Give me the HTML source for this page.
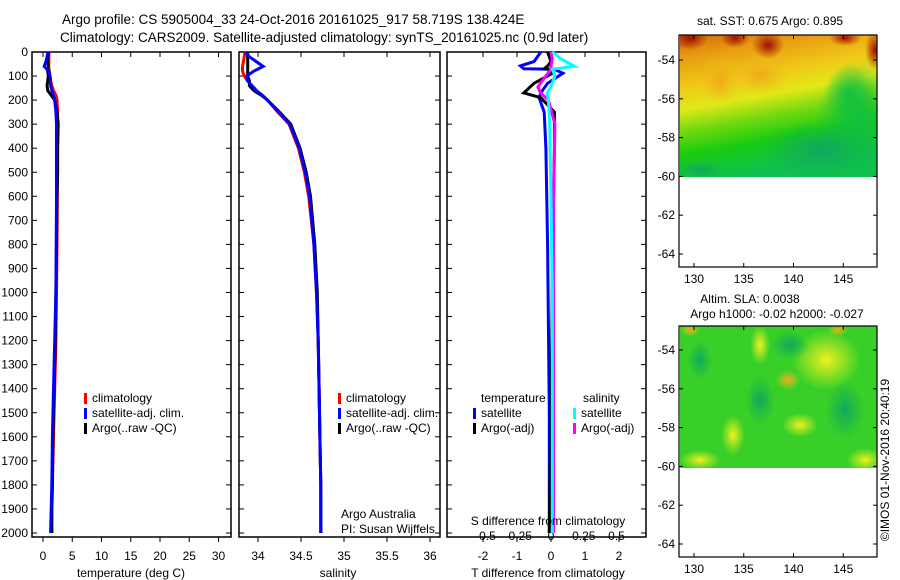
<!DOCTYPE html>
<html><head><meta charset="utf-8"><style>
html,body{margin:0;padding:0;background:#fff;}
svg{display:block;font-family:"Liberation Sans",sans-serif;}
text{font-size:12px;fill:#000;}
</style></head><body>
<svg id="fig" width="900" height="580" xmlns="http://www.w3.org/2000/svg">
<defs>
<linearGradient id="sstg" x1="0" y1="0" x2="0.25" y2="1">
<stop offset="0" stop-color="#d06a08"/><stop offset="0.15" stop-color="#e89a10"/><stop offset="0.35" stop-color="#f0c818"/><stop offset="0.5" stop-color="#e0e818"/><stop offset="0.65" stop-color="#70d810"/><stop offset="0.8" stop-color="#18cc10"/><stop offset="1" stop-color="#10c050"/>
</linearGradient>
<radialGradient id="rblob"><stop offset="0" stop-color="#a01000"/><stop offset="1" stop-color="#a01000" stop-opacity="0"/></radialGradient>
<radialGradient id="gblob"><stop offset="0" stop-color="#10c040"/><stop offset="1" stop-color="#10c040" stop-opacity="0"/></radialGradient>
<radialGradient id="yblob"><stop offset="0" stop-color="#f0f020"/><stop offset="1" stop-color="#e0f020" stop-opacity="0"/></radialGradient>
<radialGradient id="oblob"><stop offset="0" stop-color="#f0a818"/><stop offset="1" stop-color="#f0c018" stop-opacity="0"/></radialGradient>
<radialGradient id="dgblob"><stop offset="0" stop-color="#10a860"/><stop offset="1" stop-color="#10b050" stop-opacity="0"/></radialGradient>
<clipPath id="clip1"><rect x="680" y="35" width="197" height="142"/></clipPath>
<clipPath id="clip2"><rect x="680" y="326" width="197" height="142"/></clipPath>
</defs>
<g id="titles">
<text x="62" y="24" style="font-size:13.5px">Argo profile: CS 5905004_33 24-Oct-2016 20161025_917 58.719S 138.424E</text>
<text x="60" y="42" style="font-size:13.5px">Climatology: CARS2009. Satellite-adjusted climatology: synTS_20161025.nc (0.9d later)</text>
</g>
<g id="panels"></g>
<g id="maps"></g>
</svg>
<script>
// ---------- data ----------
const depthTicks = [0,100,200,300,400,500,600,700,800,900,1000,1100,1200,1300,1400,1500,1600,1700,1800,1900,2000];
const tempTicks = [0,5,10,15,20,25,30];
const salTicks = [34,34.5,35,35.5,36];
const tdiffTicks = [-2,-1,0,1,2];
const sdiffTicks = [-0.5,-0.25,0,0.25,0.5];
const sdiffLabels = ['-0.5','-0.25','0','0.25','0.5'];

const depths = [0,20,40,60,80,100,120,140,160,180,200,250,300,400,500,600,800,1000,1200,1400,1600,1800,1900,2000];
const tempClim = [1.0,1.0,1.0,0.95,1.1,1.2,1.3,1.5,1.8,2.2,2.4,2.5,2.5,2.5,2.5,2.45,2.4,2.3,2.2,2.0,1.8,1.6,1.5,1.5];
const tempSat  = [0.8,0.7,0.5,0.2,1.0,1.2,1.3,1.3,1.5,1.8,2.0,2.2,2.3,2.3,2.3,2.3,2.25,2.2,2.0,1.8,1.6,1.5,1.4,1.3];
const tempArgo = [0.9,0.8,0.8,0.9,0.8,0.9,0.8,0.7,0.8,1.4,2.0,2.4,2.6,2.5,2.5,2.4,2.3,2.2,2.1,1.9,1.7,1.6,1.5,1.5];
const salClim  = [33.85,33.84,33.83,33.82,33.82,33.84,33.88,33.93,33.98,34.05,34.11,34.23,34.36,34.47,34.54,34.59,34.65,34.68,34.7,34.71,34.72,34.73,34.73,34.73];
const salSat   = [33.85,33.9,33.98,34.06,33.95,33.87,33.88,33.93,33.98,34.05,34.11,34.24,34.37,34.48,34.55,34.6,34.65,34.68,34.7,34.71,34.72,34.73,34.73,34.73];
const salArgo  = [33.88,33.88,33.88,33.88,33.88,33.88,33.9,33.9,33.95,34.04,34.11,34.25,34.38,34.49,34.56,34.61,34.66,34.69,34.7,34.71,34.72,34.73,34.73,34.73];
const tdiffDepths = [0,40,58,70,72,88,130,170,190,250,400,800,1500,2000];
const tdiffSat  = [-0.3,-0.5,-0.9,-0.8,0.1,0.35,-0.1,-0.3,-0.35,-0.2,-0.15,-0.1,-0.05,-0.05];
const tdiffArgo = [-0.1,0.0,-0.1,-0.2,-0.1,0.05,-0.5,-0.8,-0.3,0.1,0.1,0.05,0.0,-0.05];
const sdiffDepths = [0,30,60,72,100,145,170,200,300,600,1000,2000];
const sdiffSat  = [0.01,0.08,0.18,0.01,0.03,0.0,-0.03,-0.02,-0.01,0.0,0.01,0.01];
const sdiffArgo = [0.0,0.01,0.0,0.0,-0.04,-0.1,-0.08,-0.02,0.03,0.02,0.02,0.02];
const latTicks = [-54,-56,-58,-60,-62,-64];
const lonTicks = [130,135,140,145];

// ---------- helpers ----------
const NS='http://www.w3.org/2000/svg';
function mk(tag,attrs,parent,txt){const e=document.createElementNS(NS,tag);for(const k in attrs)e.setAttribute(k,attrs[k]);if(txt!==undefined)e.textContent=txt;parent.appendChild(e);return e;}
const Y0=52, YB=537;
const yD = d => Y0 + d*0.2405;
const xT = t => 43 + t*5.85;
const xS = s => 258 + (s-34)*86;
const xTD = t => 551 + t*34;
const xSD = s => 551 + s*131;
const panels=document.getElementById('panels');

function panelBox(x0,x1,name,labelsY){
  const g=mk('g',{},panels);
  
  
  const r=mk('rect',{x:x0,y:Y0,width:x1-x0,height:YB-Y0,fill:'none',stroke:'#000','stroke-width':1.5},g);
  
  
  depthTicks.forEach(d=>{
    mk('line',{x1:x0,x2:x0+5,y1:yD(d),y2:yD(d),stroke:'#000'},g);
    mk('line',{x1:x1,x2:x1-5,y1:yD(d),y2:yD(d),stroke:'#000'},g);
    if(labelsY){const t=mk('text',{x:x0-4,y:yD(d)+4,'text-anchor':'end'},g,String(d));
      
      }
  });
  return g;
}
function xAxis(g,ticks,fx,labels,ly,top,bottomTick){
  ticks.forEach((v,i)=>{
    const x=fx(v);
    if(top) mk('line',{x1:x,x2:x,y1:Y0,y2:Y0+5,stroke:'#000'},g);
    if(bottomTick) mk('line',{x1:x,x2:x,y1:YB,y2:YB+5,stroke:'#000'},g);
    const t=mk('text',{x:x,y:ly,'text-anchor':'middle'},g,labels?labels[i]:String(v));
    
    
  });
}
function line(g,xs,ds,fx,color,name,w){
  const pts=xs.map((v,i)=>fx(v).toFixed(1)+','+yD(ds[i]).toFixed(1)).join(' ');
  const p=mk('polyline',{points:pts,fill:'none',stroke:color,'stroke-width':w||3,'stroke-linejoin':'miter'},g);
  
  
}
function legend(g,x,y,color,label,name){
  const r=mk('rect',{x:x,y:y-9,width:3,height:11,fill:color},g);
  
  
  const t=mk('text',{x:x+8,y:y},g,label);
  
  
}
function label(g,x,y,txt,name,anchor){
  const t=mk('text',{x:x,y:y,'text-anchor':anchor||'start'},g,txt);
  
  
  return t;
}

// panel 1 temperature
const p1=panelBox(32,231,'temperature-panel',true);
xAxis(p1,tempTicks,xT,null,560,true,true);
line(p1,tempClim,depths,xT,'#ff0000','temperature-climatology-line');
line(p1,tempArgo,depths,xT,'#000000','temperature-argo-line');
line(p1,tempSat,depths,xT,'#0000ff','temperature-satellite-line');
label(p1,131,577,'temperature (deg C)','temperature-axis-title','middle');
legend(p1,84,402,'#ff0000','climatology','legend-climatology');
legend(p1,84,417,'#0000ff','satellite-adj. clim.','legend-satellite-adj');
legend(p1,84,432,'#000000','Argo(..raw -QC)','legend-argo');

// panel 2 salinity
const p2=panelBox(239,440,'salinity-panel',false);
xAxis(p2,salTicks,xS,['34','34.5','35','35.5','36'],560,true,true);
line(p2,salClim,depths,xS,'#ff0000','salinity-climatology-line');
line(p2,salArgo,depths,xS,'#000000','salinity-argo-line');
line(p2,salSat,depths,xS,'#0000ff','salinity-satellite-line');
label(p2,338,577,'salinity','salinity-axis-title','middle');
legend(p2,338,402,'#ff0000','climatology','legend-climatology-2');
legend(p2,338,417,'#0000ff','satellite-adj. clim.','legend-satellite-adj-2');
legend(p2,338,432,'#000000','Argo(..raw -QC)','legend-argo-2');
label(p2,341,518,'Argo Australia','argo-australia-note');
label(p2,341,533,'PI: Susan Wijffels','pi-note');

// panel 3 differences
const p3=panelBox(447,646,'difference-panel',false);
xAxis(p3,tdiffTicks,xTD,null,560,true,true);
xAxis(p3,sdiffTicks,xSD,sdiffLabels,540,false,false);
line(p3,tdiffSat,tdiffDepths,xTD,'#0000ff','tdiff-satellite-line');
line(p3,tdiffArgo,tdiffDepths,xTD,'#000000','tdiff-argo-line');
line(p3,sdiffArgo,sdiffDepths,xSD,'#ff00ff','sdiff-argo-line');
line(p3,sdiffSat,sdiffDepths,xSD,'#00ffff','sdiff-satellite-line');
label(p3,548,577,'T difference from climatology','tdiff-axis-title','middle');
label(p3,548,525,'S difference from climatology','sdiff-axis-title','middle');
label(p3,481,402,'temperature','legend-temperature-header');
label(p3,583,402,'salinity','legend-salinity-header');
legend(p3,473,417,'#0000ff','satellite','legend-t-satellite');
legend(p3,473,432,'#000000','Argo(-adj)','legend-t-argo');
legend(p3,573,417,'#00ffff','satellite','legend-s-satellite');
legend(p3,573,432,'#ff00ff','Argo(-adj)','legend-s-argo');

// ---------- maps ----------
const maps=document.getElementById('maps');
const xLon = l => 694 + (l-130)*9.95;
function mapPanel(top,name,latY0){
  const g=mk('g',{},maps);
  
  
  const yLat = la => latY0 + (-54-la)*19.4;
  return {g,yLat,top};
}
function mapFrame(m,bottom){
  const g=m.g;
  const r=mk('rect',{x:679,y:m.top,width:198,height:bottom-m.top,fill:'none',stroke:'#000','stroke-width':1.2},g);
  
  
  latTicks.forEach(la=>{const y=m.yLat(la);
    mk('line',{x1:679,x2:683,y1:y,y2:y,stroke:'#000'},g);
    mk('line',{x1:877,x2:873,y1:y,y2:y,stroke:'#000'},g);
    label(g,675,y+4,String(la),'lat-tick-label','end');});
  lonTicks.forEach(lo=>{const x=xLon(lo);
    mk('line',{x1:x,x2:x,y1:m.top,y2:m.top+4,stroke:'#000'},g);
    mk('line',{x1:x,x2:x,y1:bottom,y2:bottom-4,stroke:'#000'},g);
    label(g,x,bottom+16,String(lo),'lon-tick-label','middle');});
}
// SST map
const m1=mapPanel(35,'sst-map',60);
{const g=m1.g;
 const f=mk('g',{'clip-path':'url(#clip1)'},g);
 
 
 mk('rect',{x:680,y:35,width:197,height:142,fill:'url(#sstg)'},f);
 const blobs=[[690,38,18,12,'rblob'],[735,38,14,10,'rblob'],[768,45,16,14,'rblob'],[845,38,16,8,'rblob'],[875,50,10,20,'rblob'],
   [860,120,45,60,'gblob'],[850,95,25,30,'gblob'],[760,75,30,20,'oblob'],[720,80,20,25,'oblob'],[820,150,60,30,'dgblob'],[700,170,25,10,'dgblob']];
 blobs.forEach(b=>{const e=mk('ellipse',{cx:b[0],cy:b[1],rx:b[2],ry:b[3],fill:'url(#'+b[4]+')'},f);
   
   });
 label(g,770,25,'sat. SST: 0.675 Argo: 0.895','sst-map-title','middle');
}
mapFrame(m1,267);
// SLA map
const m2=mapPanel(326,'sla-map',350);
{const g=m2.g;
 const f=mk('g',{'clip-path':'url(#clip2)'},g);
 
 
 mk('rect',{x:680,y:326,width:197,height:142,fill:'#38d028'},f);
 const blobs=[[826,360,35,30,'yblob'],[788,380,12,10,'oblob'],[733,435,12,20,'yblob'],[800,425,18,12,'yblob'],[700,460,20,10,'yblob'],
   [865,460,18,12,'yblob'],[760,345,10,20,'yblob'],[690,330,10,6,'oblob'],[838,330,10,6,'oblob'],[700,360,12,20,'dgblob'],[790,345,20,15,'dgblob'],[760,400,15,25,'dgblob'],[845,410,20,30,'dgblob']];
 blobs.forEach(b=>{const e=mk('ellipse',{cx:b[0],cy:b[1],rx:b[2],ry:b[3],fill:'url(#'+b[4]+')'},f);
   
   });
 label(g,750,303,'Altim. SLA: 0.0038','sla-map-title','middle');
 label(g,777,318,'Argo h1000: -0.02 h2000: -0.027','sla-map-subtitle','middle');
}
mapFrame(m2,557);
const cr=label(maps,0,0,'\u00a9IMOS 01-Nov-2016 20:40:19','imos-credit','middle');
cr.setAttribute('transform','translate(889,460) rotate(-90)');
</script>
</body></html>
